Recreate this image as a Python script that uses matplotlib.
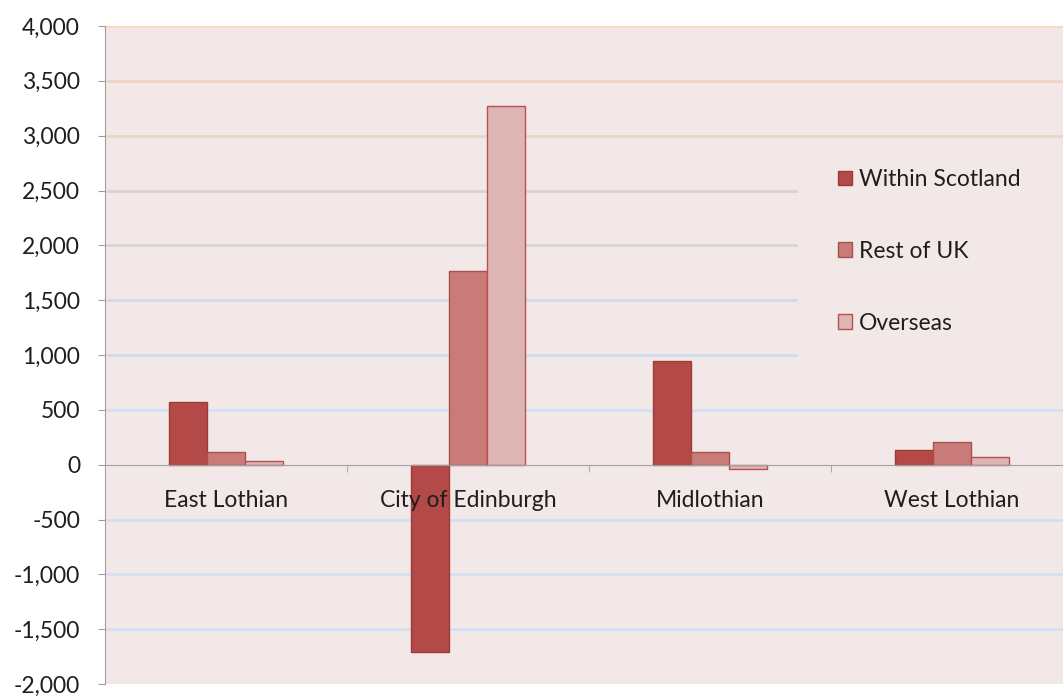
import matplotlib.pyplot as plt
import matplotlib.ticker as mticker
from matplotlib.patches import Rectangle
import numpy as np

plt.rcParams['font.family'] = ['Lato', 'DejaVu Sans']

areas = ['East Lothian', 'City of Edinburgh', 'Midlothian', 'West Lothian']
series = ['Within Scotland', 'Rest of UK', 'Overseas']
within_scotland = [570, -1705, 948, 137]
rest_of_uk = [112, 1768, 112, 210]
overseas = [36, 3270, -38, 66]
values = [within_scotland, rest_of_uk, overseas]

face = ['#B44A47', '#C97B79', '#DEB5B5']
edge = ['#9E3A38', '#A8504E', '#B8504E']
grid_colors = ['#FAD8BB', '#F2D3C2', '#E9D4CA', '#DFD1D2', '#D9D3DC', '#D2D8EA',
               '#CEDBF0', '#D4E0F2', '#D4E0F2', '#D4E0F2', '#D4E0F2', '#D4E0F2', '#D4E0F2']
bg = '#F2E8E8'
txt = '#1E1E1E'

fig = plt.figure(figsize=(10.63, 6.96), dpi=100)
W, H = 1063, 696
ax = fig.add_axes([105 / W, 12 / H, 968 / W, 658 / H])
ax.set_facecolor(bg)

ax.set_xlim(-0.5, 3.5)
ax.set_ylim(-2000, 4000)

yt = np.arange(-2000, 4001, 500)
for y, c in zip(yt[::-1], grid_colors):
    if y in (-2000, 0):
        continue
    ax.axhline(y, color=c, lw=2, zorder=0.5)

# legend backdrop hides gridlines behind the legend
ax.add_patch(Rectangle((798 / W, 1 - 378 / H), 300 / W, 232 / H, transform=fig.transFigure,
                       facecolor=bg, edgecolor='none', zorder=0.6))

x = np.arange(len(areas))
w = 0.157
handles = []
for i, (vals, fc, ec) in enumerate(zip(values, face, edge)):
    b = ax.bar(x + (i - 1) * w, vals, w, color=fc, edgecolor=ec, lw=1, zorder=2,
               label=series[i])
    handles.append(b)

for s in ['top', 'right']:
    ax.spines[s].set_visible(False)
ax.spines['left'].set_color('#A0A0A0')
ax.spines['bottom'].set_position(('data', 0))
ax.spines['bottom'].set_color('#A0A0A0')
ax.spines['bottom'].set_zorder(3)
ax.xaxis.set_zorder(5)

ax.yaxis.set_major_locator(mticker.FixedLocator(yt))
ax.yaxis.set_major_formatter(mticker.FuncFormatter(lambda v, p: f'{int(v):,}'))
ax.tick_params(axis='y', length=5, color='#A0A0A0', labelsize=16.5, labelcolor=txt, pad=13)

ax.set_xticks(x)
ax.set_xticklabels(areas)
ax.set_xticks(np.arange(0.5, 3.6, 1), minor=True)
ax.tick_params(axis='x', which='major', length=0, labelsize=16.5, labelcolor=txt, pad=18.5)
ax.tick_params(axis='x', which='minor', length=5, color='#A0A0A0')

leg = ax.legend(handles=handles, loc='upper left', bbox_to_anchor=(838 / W, 1 - 169 / H),
                bbox_transform=fig.transFigure, frameon=False, fontsize=16.5,
                handlelength=0.62, handleheight=0.62, handletextpad=0.3, labelspacing=2.22,
                borderaxespad=0, borderpad=0)
for t in leg.get_texts():
    t.set_color(txt)

fig.savefig('out.png', dpi=100, facecolor='white')
